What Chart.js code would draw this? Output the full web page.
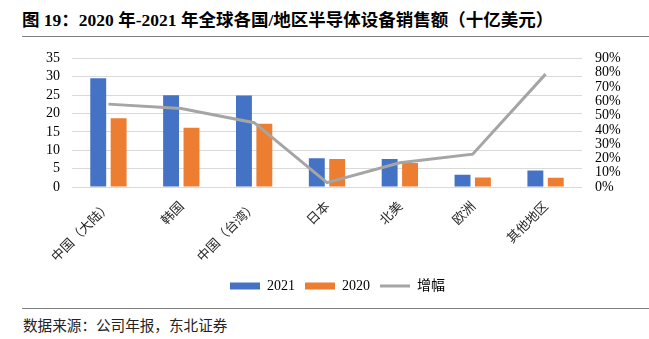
<!DOCTYPE html>
<html>
<head>
<meta charset="utf-8">
<script src="https://cdn.jsdelivr.net/npm/chart.js@4.4.0/dist/chart.umd.min.js"></script>
<style>
    body { margin: 0; background: #fff; }
    #wrap { position: relative; width: 649px; height: 339px; overflow: hidden; }
    #title {
        position: absolute; left: 22px; top: 6px;
        font: bold 17.5px "Liberation Serif", "Noto Sans CJK SC", serif;
        color: #000; white-space: nowrap;
    }
    .rule { position: absolute; left: 22px; right: 0; border-top: 1.5px solid #7f7f7f; }
    #source {
        position: absolute; left: 23px; top: 314px;
        font: 14.6px "Noto Sans CJK SC", sans-serif; color: #222; white-space: nowrap;
    }
    #box { position: absolute; left: 0; top: 37px; width: 649px; height: 271px; }
</style>
</head>
<body>
<div id="wrap">
    <div id="title">图 19：2020 年-2021 年全球各国/地区半导体设备销售额（十亿美元）</div>
    <div class="rule" style="top:36px"></div>
    <div id="box"><canvas id="salesChart"></canvas></div>
    <div class="rule" style="top:308px"></div>
    <div id="source">数据来源：公司年报，东北证券</div>
</div>
<script>
// Data
const categories = ['中国（大陆）', '韩国', '中国（台湾）', '日本', '北美', '欧洲', '其他地区'];
const sales2021 = [29.6, 25.0, 24.9, 7.8, 7.6, 3.3, 4.5];
const sales2020 = [18.7, 16.1, 17.2, 7.6, 6.5, 2.6, 2.5];
const growth = [58, 55, 45, 3, 17, 23, 79]; // %
const leftTicks = [0, 35, 5];
const rightTicks = [0, 90, 10];

const serif = '"Liberation Serif", "Noto Sans CJK SC", serif';
const gridColor = '#D9D9D9';

// legend sits a little right of the canvas centre in the original
const legendShift = {
    id: 'legendShift',
    afterLayout(chart) {
        chart.legend.left += 26;
    }
};

const ctx = document.getElementById('salesChart').getContext('2d');
new Chart(ctx, {
    type: 'bar',
    data: {
        labels: categories,
        datasets: [
            {
                label: '2021',
                data: sales2021,
                backgroundColor: '#4472C4',
                borderWidth: 0,
                categoryPercentage: 0.56,
                barPercentage: 0.78,
                yAxisID: 'y',
                order: 2
            },
            {
                label: '2020',
                data: sales2020,
                backgroundColor: '#ED7D31',
                borderWidth: 0,
                categoryPercentage: 0.56,
                barPercentage: 0.78,
                yAxisID: 'y',
                order: 2
            },
            {
                type: 'line',
                label: '增幅',
                data: growth,
                borderColor: '#A5A5A5',
                backgroundColor: '#A5A5A5',
                borderWidth: 3,
                pointRadius: 0,
                tension: 0,
                yAxisID: 'y1',
                order: 1
            }
        ]
    },
    plugins: [legendShift],
    options: {
        responsive: true,
        maintainAspectRatio: false,
        animation: false,
        layout: { padding: { top: 14, bottom: 5, left: 0, right: 0 } },
        plugins: {
            tooltip: { enabled: false },
            legend: {
                position: 'bottom',
                labels: {
                    color: '#000',
                    font: { family: serif, size: 14 },
                    usePointStyle: true,
                    pointStyleWidth: 30,
                    boxWidth: 30,
                    boxHeight: 7,
                    padding: 10,
                    generateLabels: (chart) => {
                        const items = Chart.defaults.plugins.legend.labels.generateLabels(chart);
                        items.sort((a, b) => a.datasetIndex - b.datasetIndex);
                        items.forEach((it) => {
                            const ds = chart.data.datasets[it.datasetIndex];
                            it.pointStyle = ds.type === 'line' ? 'line' : 'rect';
                        });
                        return items;
                    }
                }
            }
        },
        scales: {
            x: {
                grid: { display: false },
                border: { display: false },
                ticks: {
                    color: '#262626',
                    font: { family: '"Noto Sans CJK SC", sans-serif', size: 13 },
                    minRotation: 45,
                    maxRotation: 45,
                    autoSkip: false,
                    padding: 3
                },
                afterFit: (scale) => { scale.height = 82; }
            },
            y: {
                position: 'left',
                min: leftTicks[0],
                max: leftTicks[1],
                grid: { color: gridColor, lineWidth: 1, drawTicks: false },
                border: { display: false },
                ticks: {
                    stepSize: leftTicks[2],
                    autoSkip: false,
                    color: '#000',
                    padding: 12,
                    font: { family: serif, size: 14 }
                },
                afterFit: (scale) => { scale.width = 72; }
            },
            y1: {
                position: 'right',
                min: rightTicks[0],
                max: rightTicks[1],
                grid: { display: false, drawTicks: false },
                border: { display: false },
                ticks: {
                    stepSize: rightTicks[2],
                    autoSkip: false,
                    color: '#000',
                    padding: 13,
                    font: { family: serif, size: 14 },
                    callback: (v) => v + '%'
                },
                afterFit: (scale) => { scale.width = 67; }
            }
        }
    }
});
</script>
</body>
</html>
